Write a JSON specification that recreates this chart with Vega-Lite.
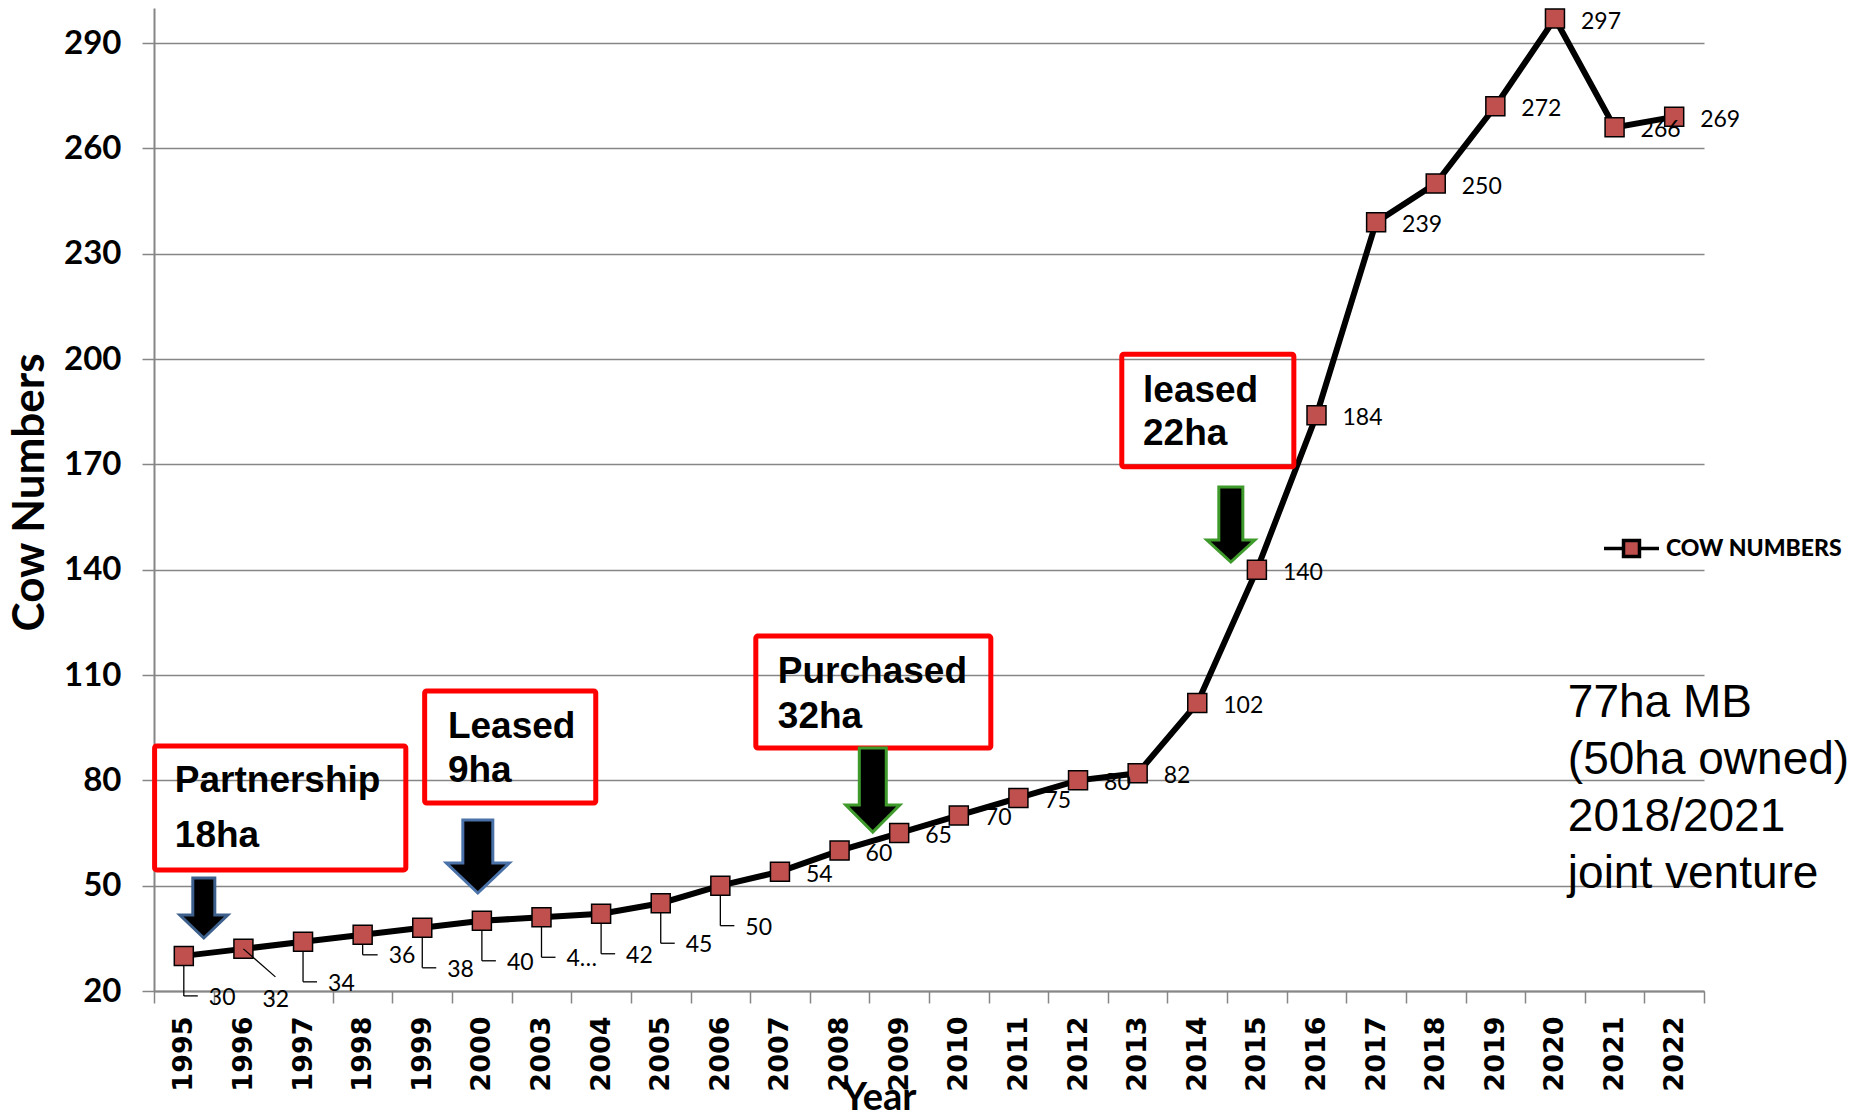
{
  "$schema": "https://vega.github.io/schema/vega-lite/v6.json",
  "width": 1550,
  "height": 983,
  "autosize": {"type": "none"},
  "padding": {"left": 154, "top": 8, "right": 158, "bottom": 128},
  "background": "white",
  "config": {
    "view": {"stroke": null},
    "font": "Lato",
    "axisY": {
      "grid": true, "gridColor": "#868686", "gridWidth": 1.5,
      "domainColor": "#868686", "domainWidth": 2,
      "tickColor": "#868686", "tickSize": 12, "tickWidth": 1.5,
      "labelFont": "Lato", "labelFontWeight": "bold", "labelFontSize": 33, "labelColor": "black", "labelPadding": 21,
      "titleFont": "Lato", "titleFontWeight": "bold", "titleFontSize": 44, "titleColor": "black"
    }
  },
  "datasets": {
    "cows": [
      {"year": "1995", "i": 0, "cows": 30, "label": "30"},
      {"year": "1996", "i": 1, "cows": 32, "label": "32"},
      {"year": "1997", "i": 2, "cows": 34, "label": "34"},
      {"year": "1998", "i": 3, "cows": 36, "label": "36"},
      {"year": "1999", "i": 4, "cows": 38, "label": "38"},
      {"year": "2000", "i": 5, "cows": 40, "label": "40"},
      {"year": "2003", "i": 6, "cows": 41, "label": "4…"},
      {"year": "2004", "i": 7, "cows": 42, "label": "42"},
      {"year": "2005", "i": 8, "cows": 45, "label": "45"},
      {"year": "2006", "i": 9, "cows": 50, "label": "50"},
      {"year": "2007", "i": 10, "cows": 54, "label": "54"},
      {"year": "2008", "i": 11, "cows": 60, "label": "60"},
      {"year": "2009", "i": 12, "cows": 65, "label": "65"},
      {"year": "2010", "i": 13, "cows": 70, "label": "70"},
      {"year": "2011", "i": 14, "cows": 75, "label": "75"},
      {"year": "2012", "i": 15, "cows": 80, "label": "80"},
      {"year": "2013", "i": 16, "cows": 82, "label": "82"},
      {"year": "2014", "i": 17, "cows": 102, "label": "102"},
      {"year": "2015", "i": 18, "cows": 140, "label": "140"},
      {"year": "2016", "i": 19, "cows": 184, "label": "184"},
      {"year": "2017", "i": 20, "cows": 239, "label": "239"},
      {"year": "2018", "i": 21, "cows": 250, "label": "250"},
      {"year": "2019", "i": 22, "cows": 272, "label": "272"},
      {"year": "2020", "i": 23, "cows": 297, "label": "297"},
      {"year": "2021", "i": 24, "cows": 266, "label": "266"},
      {"year": "2022", "i": 25, "cows": 269, "label": "269"}
    ],
    "boxes": [
      {"x1": -0.49, "x2": 3.724, "y1": 89.8, "y2": 54.5},
      {"x1": 4.04, "x2": 6.91, "y1": 105.45, "y2": 73.55},
      {"x1": 9.595, "x2": 13.537, "y1": 121.1, "y2": 89.2},
      {"x1": 15.734, "x2": 18.62, "y1": 201.4, "y2": 169.3}
    ],
    "boxtext": [
      {"x": -0.151, "y": 76.7, "text": "Partnership"},
      {"x": -0.151, "y": 61.0, "text": "18ha"},
      {"x": 4.43, "y": 92.07, "text": "Leased"},
      {"x": 4.43, "y": 79.53, "text": "9ha"},
      {"x": 9.964, "y": 107.73, "text": "Purchased"},
      {"x": 9.964, "y": 94.9, "text": "32ha"},
      {"x": 16.09, "y": 187.77, "text": "leased"},
      {"x": 16.09, "y": 175.5, "text": "22ha"}
    ],
    "arrows": [
      {"x": 0.3355, "y": 43.64, "kind": "a1"},
      {"x": 4.932, "y": 58.31, "kind": "a2"},
      {"x": 11.557, "y": 77.25, "kind": "a3"},
      {"x": 17.563, "y": 152.88, "kind": "a4"}
    ],
    "note": [
      {"x": 23.216, "y": 98.05, "text": "77ha MB"},
      {"x": 23.216, "y": 81.81, "text": "(50ha owned)"},
      {"x": 23.216, "y": 65.58, "text": "2018/2021"},
      {"x": 23.216, "y": 49.34, "text": "joint venture"}
    ]
  },
  "layer": [
    {
      "data": {"name": "cows"},
      "layer": [
        {
          "mark": {"type": "line", "color": "black", "strokeWidth": 6},
          "encoding": {
            "x": {
              "field": "year", "type": "ordinal",
              "scale": {"type": "band", "paddingInner": 0, "paddingOuter": 0},
              "axis": {
                "title": "Year", "tickBand": "extent", "grid": false,
                "labelAngle": -90, "labelAlign": "right", "labelBaseline": "middle",
                "labelFont": "DejaVu Sans", "labelFontWeight": "bold", "labelFontSize": 27, "labelColor": "black",
                "labelPadding": 13,
                "tickColor": "#868686", "tickSize": 12, "tickWidth": 1.5,
                "domainColor": "#868686", "domainWidth": 2,
                "titleFont": "Lato", "titleFontWeight": "bold", "titleFontSize": 38, "titleColor": "black",
                "titleX": 725, "titleY": 118, "titleBaseline": "alphabetic", "titleAlign": "center"
              }
            },
            "y": {
              "field": "cows", "type": "quantitative",
              "scale": {"domain": [20, 300], "nice": false, "zero": false},
              "axis": {
                "title": "Cow Numbers",
                "values": [20, 50, 80, 110, 140, 170, 200, 230, 260, 290],
                "titleX": -111, "titleY": 484, "titleBaseline": "alphabetic", "titleAngle": -90, "titleAlign": "center"
              }
            }
          }
        },
        {
          "transform": [{"filter": "datum.i < 10 && datum.i != 1 && datum.i != 3"}],
          "mark": {"type": "rule", "color": "black", "strokeWidth": 1.3, "y2Offset": 40},
          "encoding": {
            "x": {"field": "year", "type": "ordinal"},
            "y": {"field": "cows", "type": "quantitative", "scale": {"domain": [20, 300], "nice": false, "zero": false}},
            "y2": {"field": "cows"}
          }
        },
        {
          "transform": [{"filter": "datum.i == 3"}],
          "mark": {"type": "rule", "color": "black", "strokeWidth": 1.3, "y2Offset": 20},
          "encoding": {
            "x": {"field": "year", "type": "ordinal"},
            "y": {"field": "cows", "type": "quantitative", "scale": {"domain": [20, 300], "nice": false, "zero": false}},
            "y2": {"field": "cows"}
          }
        },
        {
          "mark": {"type": "point", "shape": "square", "filled": true, "size": 361, "stroke": "black", "strokeWidth": 1.5, "opacity": 1},
          "encoding": {
            "x": {"field": "year", "type": "ordinal"},
            "y": {"field": "cows", "type": "quantitative", "scale": {"domain": [20, 300], "nice": false, "zero": false}},
            "color": {
              "datum": "COW NUMBERS",
              "scale": {"range": ["#C0504D"]},
              "legend": {
                "title": null, "orient": "none", "legendX": 1448, "legendY": 511,
                "symbolType": "M-1,0L-0.29,0M0.29,0L1,0M-0.29,-0.29L0.29,-0.29L0.29,0.29L-0.29,0.29Z",
                "symbolSize": 3025, "symbolStrokeColor": "black", "symbolStrokeWidth": 3.5,
                "labelFont": "Lato", "labelFontSize": 23, "labelFontWeight": 900, "labelColor": "black",
                "labelOffset": 5, "labelLimit": 0, "padding": 0
              }
            }
          }
        },
        {
          "transform": [{"filter": "datum.i >= 10"}],
          "mark": {"type": "text", "align": "left", "baseline": "middle", "dx": 26, "dy": 3, "font": "Lato", "fontSize": 23, "color": "black"},
          "encoding": {
            "x": {"field": "year", "type": "ordinal"},
            "y": {"field": "cows", "type": "quantitative", "scale": {"domain": [20, 300], "nice": false, "zero": false}},
            "text": {"field": "label"}
          }
        },
        {
          "transform": [{"filter": "datum.i < 10 && datum.i != 1 && datum.i != 3"}],
          "mark": {"type": "text", "align": "left", "baseline": "middle", "dx": 25, "dy": 42, "font": "Lato", "fontSize": 23, "color": "black"},
          "encoding": {
            "x": {"field": "year", "type": "ordinal"},
            "y": {"field": "cows", "type": "quantitative", "scale": {"domain": [20, 300], "nice": false, "zero": false}},
            "text": {"field": "label"}
          }
        },
        {
          "transform": [{"filter": "datum.i == 3"}],
          "mark": {"type": "text", "align": "left", "baseline": "middle", "dx": 26, "dy": 21, "font": "Lato", "fontSize": 23, "color": "black"},
          "encoding": {
            "x": {"field": "year", "type": "ordinal"},
            "y": {"field": "cows", "type": "quantitative", "scale": {"domain": [20, 300], "nice": false, "zero": false}},
            "text": {"field": "label"}
          }
        },
        {
          "transform": [{"filter": "datum.i == 1"}],
          "mark": {"type": "text", "align": "left", "baseline": "middle", "dx": 19, "dy": 51, "font": "Lato", "fontSize": 23, "color": "black"},
          "encoding": {
            "x": {"field": "year", "type": "ordinal"},
            "y": {"field": "cows", "type": "quantitative", "scale": {"domain": [20, 300], "nice": false, "zero": false}},
            "text": {"field": "label"}
          }
        }
      ]
    },
    {
      "layer": [
        {
          "data": {"name": "cows"},
          "transform": [{"filter": "datum.i < 10 && datum.i != 1 && datum.i != 3"}],
          "mark": {"type": "rule", "color": "black", "strokeWidth": 1.3, "yOffset": 40, "x2Offset": 14},
          "encoding": {
            "x": {"field": "i", "type": "quantitative", "scale": {"domain": [-0.5, 25.5], "nice": false, "zero": false}, "axis": null},
            "x2": {"field": "i"},
            "y": {"field": "cows", "type": "quantitative", "scale": {"domain": [20, 300], "nice": false, "zero": false}}
          }
        },
        {
          "data": {"name": "cows"},
          "transform": [{"filter": "datum.i == 3"}],
          "mark": {"type": "rule", "color": "black", "strokeWidth": 1.3, "yOffset": 20, "x2Offset": 15},
          "encoding": {
            "x": {"field": "i", "type": "quantitative", "scale": {"domain": [-0.5, 25.5], "nice": false, "zero": false}, "axis": null},
            "x2": {"field": "i"},
            "y": {"field": "cows", "type": "quantitative", "scale": {"domain": [20, 300], "nice": false, "zero": false}}
          }
        },
        {
          "data": {"name": "cows"},
          "transform": [{"filter": "datum.i == 1"}],
          "mark": {"type": "rule", "color": "black", "strokeWidth": 1.3, "x2Offset": 32, "y2Offset": 28},
          "encoding": {
            "x": {"field": "i", "type": "quantitative", "scale": {"domain": [-0.5, 25.5], "nice": false, "zero": false}, "axis": null},
            "x2": {"field": "i"},
            "y": {"field": "cows", "type": "quantitative", "scale": {"domain": [20, 300], "nice": false, "zero": false}},
            "y2": {"field": "cows"}
          }
        },
        {
          "data": {"name": "boxes"},
          "mark": {"type": "rect", "fill": null, "fillOpacity": 0, "stroke": "#FF0000", "strokeWidth": 5, "cornerRadius": 2},
          "encoding": {
            "x": {"field": "x1", "type": "quantitative", "scale": {"domain": [-0.5, 25.5], "nice": false, "zero": false}, "axis": null},
            "x2": {"field": "x2"},
            "y": {"field": "y1", "type": "quantitative", "scale": {"domain": [20, 300], "nice": false, "zero": false}},
            "y2": {"field": "y2"}
          }
        },
        {
          "data": {"name": "boxtext"},
          "mark": {"type": "text", "align": "left", "baseline": "alphabetic", "font": "Liberation Sans", "fontWeight": "bold", "fontSize": 37, "color": "black"},
          "encoding": {
            "x": {"field": "x", "type": "quantitative", "scale": {"domain": [-0.5, 25.5], "nice": false, "zero": false}, "axis": null},
            "y": {"field": "y", "type": "quantitative", "scale": {"domain": [20, 300], "nice": false, "zero": false}},
            "text": {"field": "text"}
          }
        },
        {
          "data": {"name": "arrows"},
          "mark": {"type": "point", "filled": true, "fill": "black", "size": 7056, "strokeWidth": 3, "opacity": 1},
          "encoding": {
            "x": {"field": "x", "type": "quantitative", "scale": {"domain": [-0.5, 25.5], "nice": false, "zero": false}, "axis": null},
            "y": {"field": "y", "type": "quantitative", "scale": {"domain": [20, 300], "nice": false, "zero": false}},
            "shape": {
              "field": "kind", "type": "nominal", "legend": null,
              "scale": {
                "domain": ["a1", "a2", "a3", "a4"],
                "range": [
                  "M-0.262,-0.714L0.262,-0.714L0.262,0.167L0.571,0.167L0,0.714L-0.571,0.167L-0.262,0.167Z",
                  "M-0.357,-0.869L0.357,-0.869L0.357,0.155L0.75,0.155L0,0.869L-0.75,0.155L-0.357,0.155Z",
                  "M-0.321,-1L0.321,-1L0.321,0.357L0.643,0.357L0,1L-0.643,0.357L-0.321,0.357Z",
                  "M-0.286,-0.893L0.286,-0.893L0.286,0.369L0.571,0.369L0,0.893L-0.571,0.369L-0.286,0.369Z"
                ]
              }
            },
            "stroke": {
              "field": "kind", "type": "nominal", "legend": null,
              "scale": {"domain": ["a1", "a2", "a3", "a4"], "range": ["#3C5F8C", "#4A72A8", "#3E9A2B", "#3E9A2B"]}
            }
          }
        },
        {
          "data": {"name": "note"},
          "mark": {"type": "text", "align": "left", "baseline": "alphabetic", "font": "Liberation Sans", "fontSize": 46, "color": "black"},
          "encoding": {
            "x": {"field": "x", "type": "quantitative", "scale": {"domain": [-0.5, 25.5], "nice": false, "zero": false}, "axis": null},
            "y": {"field": "y", "type": "quantitative", "scale": {"domain": [20, 300], "nice": false, "zero": false}},
            "text": {"field": "text"}
          }
        }
      ]
    }
  ],
  "resolve": {"scale": {"x": "independent"}}
}
